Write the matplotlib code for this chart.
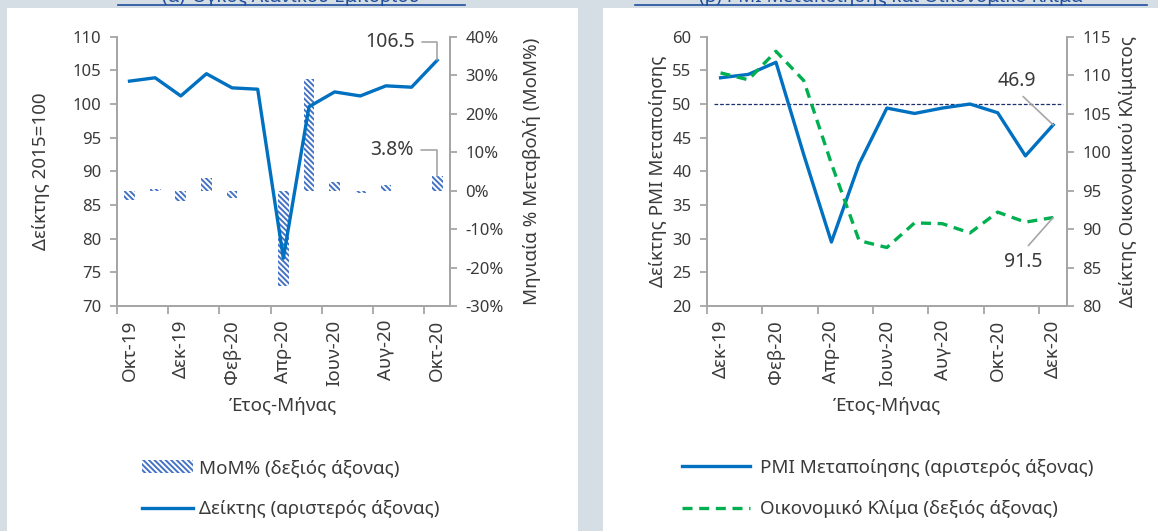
import matplotlib
matplotlib.use("Agg")
import matplotlib.pyplot as plt
from matplotlib.patches import Rectangle, Patch
from matplotlib.lines import Line2D
import numpy as np

plt.rcParams["font.family"] = ["Noto Sans", "DejaVu Sans"]
plt.rcParams["hatch.linewidth"] = 1.4

# ---- data: (a) retail trade volume ----
months_a = ["Οκτ-19", "Νοε-19", "Δεκ-19", "Ιαν-20", "Φεβ-20", "Μαρ-20", "Απρ-20",
            "Μαϊ-20", "Ιουν-20", "Ιουλ-20", "Αυγ-20", "Σεπ-20", "Οκτ-20"]
index_a = [103.4, 103.9, 101.2, 104.5, 102.4, 102.2, 77.1, 99.6, 101.8, 101.2, 102.7, 102.5, 106.5]
mom_a = [-2.4, 0.5, -2.6, 3.2, -2.0, -0.2, -24.7, 29.0, 2.2, -0.6, 1.5, -0.2, 3.8]

# ---- data: (b) PMI and economic sentiment ----
months_b = ["Δεκ-19", "Ιαν-20", "Φεβ-20", "Μαρ-20", "Απρ-20", "Μαϊ-20", "Ιουν-20",
            "Ιουλ-20", "Αυγ-20", "Σεπ-20", "Οκτ-20", "Νοε-20", "Δεκ-20"]
pmi_b = [53.9, 54.4, 56.2, 42.5, 29.5, 41.1, 49.4, 48.6, 49.4, 50.0, 48.7, 42.3, 46.9]
esi_b = [110.3, 109.4, 113.1, 109.3, 98.5, 88.5, 87.6, 90.8, 90.7, 89.5, 92.2, 90.9, 91.5]
pmi_threshold = 50

BG = "#d5dde5"
BLUE = "#0070c0"
HATCH = "#4472c4"
GREEN = "#00b050"
SPINE = "#a6a6a6"
TXT = "#3a3a3a"
TITLE = "#1f4e9c"
HATCH_PAT = "\\" * 6
FS = 12      # y tick labels
FL = 13.5    # labels, legend, month ticks

W, H = 1158, 531
fig = plt.figure(figsize=(W / 100, H / 100), dpi=100, facecolor=BG)


def px_rect(x0, y0, x1, y1):
    # pixel box (top-left origin) -> figure fraction [l, b, w, h]
    return [x0 / W, 1 - y1 / H, (x1 - x0) / W, (y1 - y0) / H]


# white panels
for x0, x1 in [(7, 578), (603, 1158)]:
    l, b, w, h = px_rect(x0, 8, x1, 531)
    fig.patches.append(Rectangle((l, b), w, h, transform=fig.transFigure,
                                 facecolor="white", edgecolor="none", zorder=-10))

# titles, cut at the top edge as in the source
for cx, txt, x0, x1 in [(291, "(α) Όγκος Λιανικού Εμπορίου", 118, 465),
                        (891, "(β) PMI Μεταποίησης και Οικονομικό Κλίμα", 635, 1147)]:
    fig.text(cx / W, 1 - 2.5 / H, txt, ha="center", va="baseline", fontsize=13.5,
             color=TITLE)
    fig.add_artist(Line2D([x0 / W, x1 / W], [1 - 4.5 / H] * 2, color=TITLE, lw=1.2))


def style_axes(ax, axr, labels):
    n = len(labels)
    x = np.arange(n)
    ax.set_xlim(-0.5, n - 0.5)
    ax.set_xticks(x[::2])
    ax.set_xticklabels(labels[::2], rotation=90, fontsize=FL, color=TXT)
    ax.set_xticks(np.arange(-0.5, n - 1, 2), minor=True)
    ax.tick_params(axis="x", which="major", length=0, pad=10)
    ax.tick_params(axis="x", which="minor", length=6, width=1.3, color=SPINE)
    ax.tick_params(axis="y", length=5, width=1.3, color=SPINE, labelsize=FS,
                   labelcolor=TXT, pad=6)
    axr.tick_params(axis="y", length=5, width=1.3, color=SPINE, labelsize=FS,
                    labelcolor=TXT, pad=6)
    for a in (ax, axr):
        a.spines["top"].set_visible(False)
        for s in ("left", "right", "bottom"):
            a.spines[s].set_color(SPINE)
            a.spines[s].set_linewidth(1.3)
        a.set_facecolor("none")
    ax.set_xlabel("Έτος-Μήνας", fontsize=FL, color=TXT, labelpad=8)


# ---------------- panel (a) ----------------
ax1 = fig.add_axes(px_rect(116.7, 36.7, 450, 306))
ax1r = ax1.twinx()
xa = np.arange(len(months_a))
ax1r.bar(xa, np.array(mom_a) / 100, width=0.42, facecolor="white", edgecolor=HATCH,
         linewidth=0, hatch=HATCH_PAT, zorder=1)
ax1.plot(xa, index_a, color=BLUE, lw=2.4, zorder=3)
ax1.set_zorder(ax1r.get_zorder() + 1)
ax1.set_ylim(70, 110)
ax1.set_yticks(np.arange(70, 111, 5))
ax1r.set_ylim(-0.30, 0.40)
ax1r.set_yticks(np.arange(-0.3, 0.41, 0.1))
ax1r.set_yticklabels([f"{v:.0f}%" for v in np.arange(-30, 41, 10)])
style_axes(ax1, ax1r, months_a)
ax1.set_ylabel("Δείκτης 2015=100", fontsize=FL, color=TXT, labelpad=16)
ax1r.set_ylabel("Μηνιαία % Μεταβολή (MoM%)", fontsize=FL, color=TXT, labelpad=14)

lead = dict(arrowstyle="-", color=SPINE, lw=1.2, shrinkA=3, shrinkB=0)
ax1.annotate(f"{index_a[-1]:.1f}", xy=(xa[-1], index_a[-1]), xytext=(-22, 18),
             textcoords="offset pixels", ha="right", va="center", fontsize=14, color=TXT,
             arrowprops=dict(connectionstyle="angle,angleA=0,angleB=90,rad=0",
                             relpos=(1, 0.5), **lead))
ax1.annotate(f"{mom_a[-1]:.1f}%", xy=(xa[-1], 70 + (0.30 + mom_a[-1] / 100) / 0.70 * 40),
             xytext=(-23, 26),
             textcoords="offset pixels", ha="right", va="center", fontsize=14, color=TXT,
             arrowprops=dict(connectionstyle="angle,angleA=0,angleB=90,rad=0",
                             relpos=(1, 0.5), **lead))

fig.legend(handles=[Patch(facecolor="white", edgecolor=HATCH, linewidth=0, hatch=HATCH_PAT),
                    Line2D([], [], color=BLUE, lw=2.4)],
           labels=["MoM% (δεξιός άξονας)", "Δείκτης (αριστερός άξονας)"],
           loc="upper left", bbox_to_anchor=(142 / W, 1 - 459 / H), frameon=False,
           fontsize=FL, handlelength=2.7, handletextpad=0.35, labelspacing=1.25,
           borderpad=0, borderaxespad=0, labelcolor=TXT)

# ---------------- panel (b) ----------------
ax2 = fig.add_axes(px_rect(706.7, 36.7, 1067, 306))
ax2r = ax2.twinx()
xb = np.arange(len(months_b))
ax2.plot(xb, pmi_b, color=BLUE, lw=2.4, zorder=3)
ax2r.plot(xb, esi_b, color=GREEN, lw=2.4, ls=(0, (3, 2)), zorder=3)
ax2.axhline(pmi_threshold, xmin=0.02, xmax=0.99, color="#1f2f6f", lw=0.9, ls=(0, (3, 1.5)))
ax2.set_ylim(20, 60)
ax2.set_yticks(np.arange(20, 61, 5))
ax2r.set_ylim(80, 115)
ax2r.set_yticks(np.arange(80, 116, 5))
style_axes(ax2, ax2r, months_b)
ax2.set_ylabel("Δείκτης PMI Μεταποίησης", fontsize=FL, color=TXT, labelpad=4)
ax2r.set_ylabel("Δείκτης Οικονομικού Κλίματος", fontsize=FL, color=TXT, labelpad=6)

ax2.annotate(f"{pmi_b[-1]:.1f}", xy=(xb[-1], pmi_b[-1]), xytext=(-36, 44),
             textcoords="offset pixels", ha="center", va="center", fontsize=14, color=TXT,
             arrowprops=dict(relpos=(0.5, 0), **lead))
ax2r.annotate(f"{esi_b[-1]:.1f}", xy=(xb[-1], esi_b[-1]), xytext=(-30, -44),
              textcoords="offset pixels", ha="center", va="center", fontsize=14, color=TXT,
              arrowprops=dict(relpos=(0.5, 1), **lead))

fig.legend(handles=[Line2D([], [], color=BLUE, lw=2.4),
                    Line2D([], [], color=GREEN, lw=2.4, ls=(0, (3, 2)))],
           labels=["PMI Μεταποίησης (αριστερός άξονας)", "Οικονομικό Κλίμα (δεξιός άξονας)"],
           loc="upper left", bbox_to_anchor=(682 / W, 1 - 459 / H), frameon=False,
           fontsize=FL, handlelength=3.6, handletextpad=0.55, labelspacing=1.25,
           borderpad=0, borderaxespad=0, labelcolor=TXT)

fig.savefig("out.png", dpi=100, facecolor=BG)
